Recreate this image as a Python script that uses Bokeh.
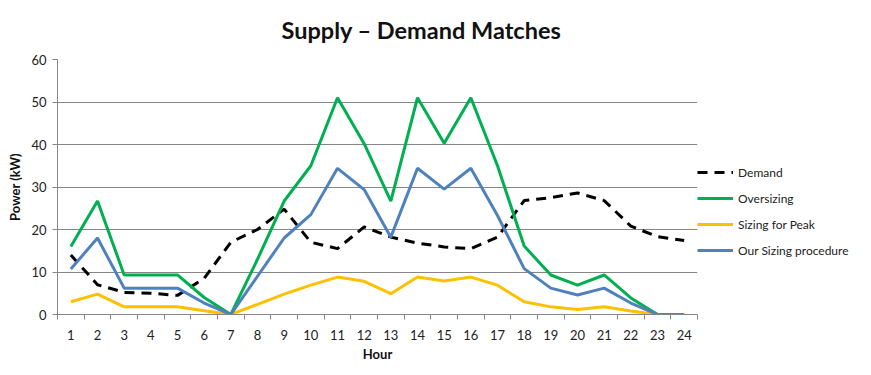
from bokeh.plotting import figure
from bokeh.models import Range1d, FixedTicker, Legend, LegendItem
from bokeh.embed import file_html
from bokeh.resources import INLINE

hours = list(range(1, 25))
demand = [14, 7, 5.2, 5, 4.5, 8.5, 17, 20, 24.8, 17, 15.5, 20.6, 18.2, 16.8, 15.9, 15.5, 18.2, 26.8, 27.5, 28.6, 26.8, 20.8, 18.3, 17.4]
oversizing = [16, 26.7, 9.3, 9.3, 9.3, 4, 0, 13, 26.7, 35, 51, 40.2, 26.7, 51, 40.3, 51, 35, 16.1, 9.3, 6.9, 9.3, 3.9, 0, 0]
peak = [3, 4.8, 1.8, 1.8, 1.8, 0.9, 0, 2.4, 4.8, 6.9, 8.8, 7.8, 4.9, 8.8, 7.9, 8.8, 6.9, 3, 1.8, 1.2, 1.8, 0.8, 0, float("nan")]
ours = [10.7, 18, 6.2, 6.2, 6.2, 2.7, 0, 9, 18, 23.5, 34.4, 29.4, 18.2, 34.4, 29.5, 34.4, 23.3, 10.8, 6.2, 4.6, 6.2, 2.7, 0, 0]
y_ticks = [0, 10, 20, 30, 40, 50, 60]

FONT = "Lato"
GRID = "#868686"

p = figure(frame_width=640, frame_height=255, output_backend="svg", toolbar_location=None,
           x_range=Range1d(0.5, 24.5), y_range=Range1d(0, 60),
           min_border_left=57, min_border_right=0, min_border_top=59, min_border_bottom=50,
           title="Supply \u2013 Demand Matches")
p.outline_line_color = None
p.background_fill_color = "white"

p.title.text_font = FONT
p.title.text_font_size = "23.5px"
p.title.text_font_style = "bold"
p.title.text_color = "#111111"
p.title.align = "left"
p.title.vertical_align = "top"
p.title.offset = 224
p.title.standoff = 28

r_d = p.line(hours, demand, line_color="black", line_width=3, line_dash="10 7")
r_o = p.line(hours, oversizing, line_color="#00B050", line_width=3)
r_p = p.line(hours, peak, line_color="#FFC000", line_width=3)
r_u = p.line(hours, ours, line_color="#4F81BD", line_width=3)

xa = p.xaxis[0]
xa.ticker = FixedTicker(ticks=hours, minor_ticks=[h - 0.5 for h in hours] + [24.5])
xa.major_tick_out = 0
xa.major_tick_in = 0
xa.minor_tick_out = 5
xa.minor_tick_in = 0
xa.minor_tick_line_color = GRID
xa.axis_line_color = GRID
xa.major_label_standoff = 10
xa.major_label_text_font = FONT
xa.major_label_text_font_size = "13px"
xa.major_label_text_color = "#222222"
xa.axis_label = "Hour"
xa.axis_label_text_font = FONT
xa.axis_label_text_font_size = "13px"
xa.axis_label_text_font_style = "bold"
xa.axis_label_text_color = "#111111"
xa.axis_label_standoff = 3

ya = p.yaxis[0]
ya.ticker = FixedTicker(ticks=y_ticks, minor_ticks=[])
ya.major_tick_out = 5
ya.major_tick_in = 0
ya.major_tick_line_color = GRID
ya.axis_line_color = GRID
ya.major_label_standoff = 6
ya.major_label_text_font = FONT
ya.major_label_text_font_size = "13px"
ya.major_label_text_color = "#222222"
ya.axis_label = "Power (kW)"
ya.axis_label_text_font = FONT
ya.axis_label_text_font_size = "13px"
ya.axis_label_text_font_style = "bold"
ya.axis_label_text_color = "#111111"
ya.axis_label_standoff = 5

p.xgrid.grid_line_color = None
p.ygrid.grid_line_color = GRID
p.ygrid.ticker = FixedTicker(ticks=y_ticks)

legend = Legend(items=[
    LegendItem(label="Demand", renderers=[r_d]),
    LegendItem(label="Oversizing", renderers=[r_o]),
    LegendItem(label="Sizing for Peak", renderers=[r_p]),
    LegendItem(label="Our Sizing procedure", renderers=[r_u]),
], location=(0, 54))
legend.background_fill_alpha = 0
legend.border_line_alpha = 0
legend.padding = 0
legend.margin = 0
legend.spacing = 6
legend.glyph_width = 36
legend.glyph_height = 20
legend.label_height = 20
legend.label_standoff = 5
legend.label_text_font = FONT
legend.label_text_font_size = "12px"
legend.label_text_color = "#222222"
p.add_layout(legend, "right")

open("out.html", "w").write(file_html(p, INLINE))
